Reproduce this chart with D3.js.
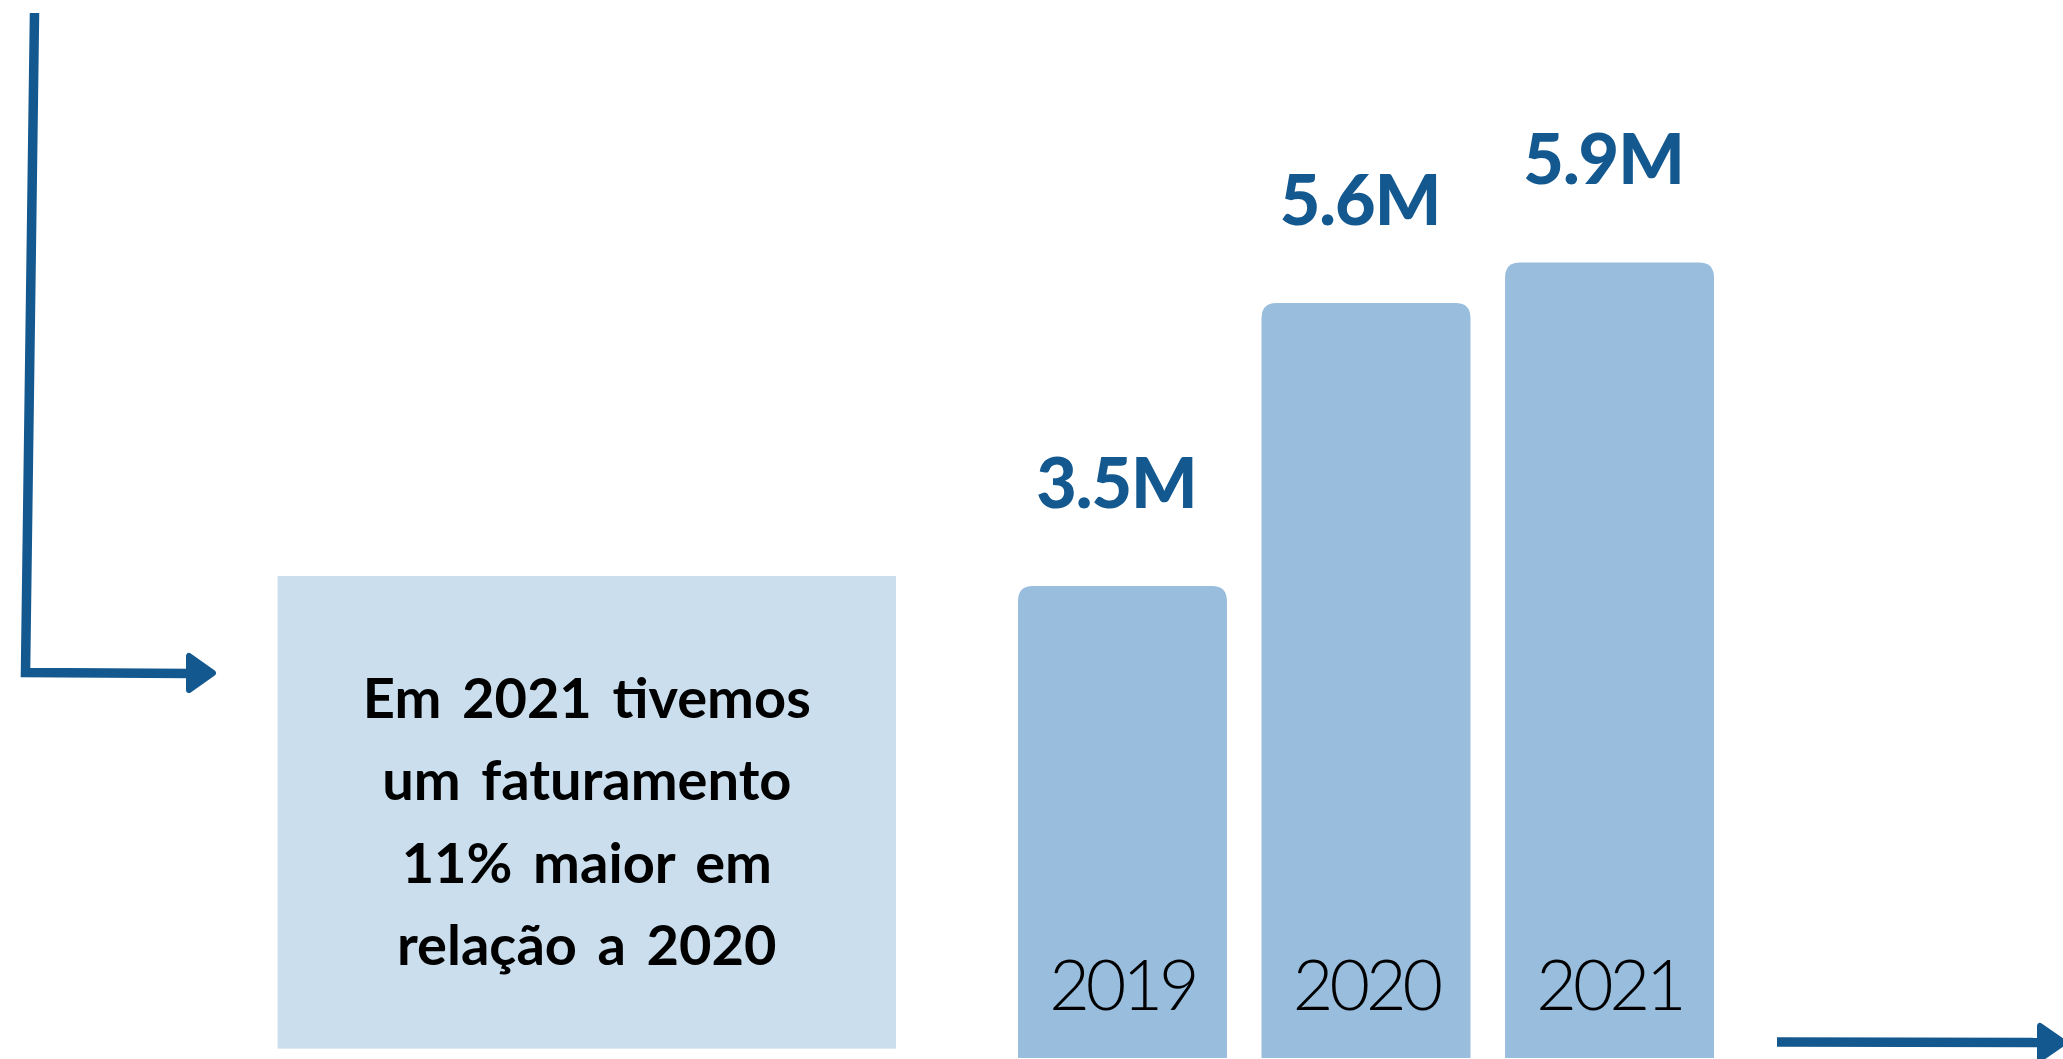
<!DOCTYPE html>
<html lang="pt">
<head>
  <meta charset="UTF-8">
  <title>Faturamento</title>
  <script src="https://d3js.org/d3.v7.min.js"></script>
  <style>
    html, body {
      margin: 0;
      padding: 0;
      background: #fff;
    }

    svg {
      display: block;
    }

    .valor {
      font: 900 70px Lato, sans-serif;
      fill: #13588f;
      letter-spacing: -1px;
    }

    .ano {
      font: 300 70px Lato, sans-serif;
      fill: #000;
      letter-spacing: -4px;
    }

    .nota {
      font: 700 56px Lato, sans-serif;
      fill: #000;
      word-spacing: 7px;
    }

    .seta {
      fill: none;
      stroke: #13588f;
      stroke-width: 9.5px;
    }

    .ponta {
      fill: #13588f;
      stroke: #13588f;
      stroke-width: 6px;
      stroke-linejoin: round;
    }
  </style>
</head>
<body>
  <svg width="2063" height="1059"></svg>

  <script>
    // dados do gráfico
    const anos = ["2019", "2020", "2021"];
    const faturamento = [3.5, 5.6, 5.9]; // milhões
    const nota = ["Em 2021 tivemos", "um faturamento", "11% maior em", "relação a 2020"];

    const svg = d3.select("svg"),
          width = +svg.attr("width"),
          height = +svg.attr("height");

    const base = 1058;      // base das barras
    const raio = 15;        // cantos arredondados no topo

    const x = d3.scaleBand()
      .domain(anos)
      .range([1018, 1714])
      .paddingInner(0.142)
      .paddingOuter(0);

    const y = d3.scaleLinear()
      .domain([0, 6])
      .range([base, base - 809]);

    const dados = anos.map((a, i) => ({ ano: a, valor: faturamento[i] }));

    // eixo vertical com seta (decorativo)
    svg.append("path")
      .attr("class", "seta")
      .attr("d", "M34.5,13 L25.5,672.5 L190,673.5");

    svg.append("path")
      .attr("class", "ponta")
      .attr("d", "M189,656 L189,690 L213,673 Z");

    // seta inferior à direita
    svg.append("path")
      .attr("class", "seta")
      .attr("d", "M1777,1042 L2040,1042.5");

    svg.append("path")
      .attr("class", "ponta")
      .attr("d", "M2040,1026 L2040,1059 L2064,1042.5 Z");

    // caixa de texto
    const caixa = { x: 277.6, y: 576, w: 618.4, h: 472.6 };

    svg.append("rect")
      .attr("x", caixa.x)
      .attr("y", caixa.y)
      .attr("width", caixa.w)
      .attr("height", caixa.h)
      .attr("fill", "#cadeed");

    svg.append("g")
      .selectAll("text")
      .data(nota)
      .enter()
      .append("text")
      .attr("class", "nota")
      .attr("x", caixa.x + caixa.w / 2)
      .attr("y", (d, i) => 718 + i * 82.4)
      .attr("text-anchor", "middle")
      .text(d => d);

    // barras com topo arredondado
    function barra(d) {
      const x0 = x(d.ano), x1 = x0 + x.bandwidth(), y0 = y(d.valor);
      return `M${x0},${base} L${x0},${y0 + raio} Q${x0},${y0} ${x0 + raio},${y0}` +
             ` L${x1 - raio},${y0} Q${x1},${y0} ${x1},${y0 + raio} L${x1},${base} Z`;
    }

    svg.append("g")
      .selectAll("path")
      .data(dados)
      .enter()
      .append("path")
      .attr("d", barra)
      .attr("fill", "#98bddd");

    // rótulos de valor acima das barras
    svg.append("g")
      .selectAll("text")
      .data(dados)
      .enter()
      .append("text")
      .attr("class", "valor")
      .attr("x", d => x(d.ano) + x.bandwidth() / 2 - 6)
      .attr("y", d => y(d.valor) - 78)
      .attr("text-anchor", "middle")
      .text(d => d3.format(".1f")(d.valor) + "M");

    // anos dentro das barras
    svg.append("g")
      .selectAll("text")
      .data(dados)
      .enter()
      .append("text")
      .attr("class", "ano")
      .attr("x", d => x(d.ano) + x.bandwidth() / 2)
      .attr("y", 1010)
      .attr("text-anchor", "middle")
      .text(d => d.ano);
  </script>
</body>
</html>
